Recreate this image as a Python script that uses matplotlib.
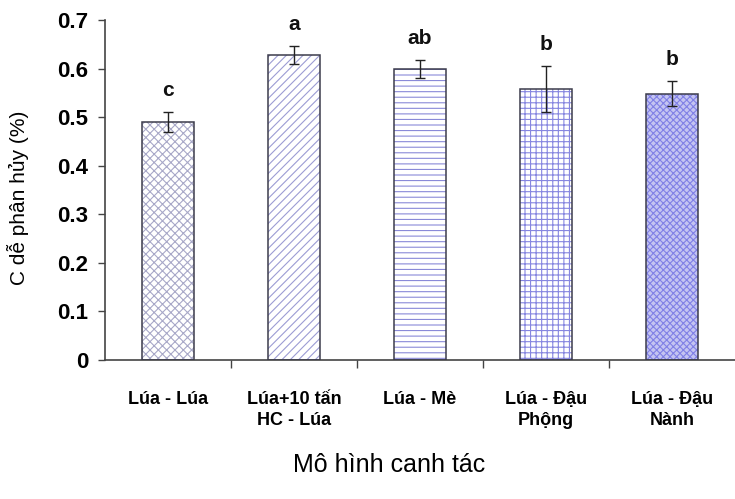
import numpy as np
import matplotlib
matplotlib.use("Agg")
import matplotlib.pyplot as plt

# data
categories = ["Lúa - Lúa", "Lúa+10 tấn\nHC - Lúa", "Lúa - Mè", "Lúa - Đậu\nPhộng", "Lúa - Đậu\nNành"]
values = [0.49, 0.628, 0.599, 0.558, 0.548]
errors = [0.020, 0.018, 0.018, 0.047, 0.026]
letters = ["c", "a", "ab", "b", "b"]

# styling per bar
hatches = ["xxxx", "////", "---", "+++", "xxxxx"]
hatch_colors = ["#a8a8c8", "#9c9cd4", "#8a8ad8", "#8686e0", "#8080e6"]
face_colors = ["white", "white", "white", "white", "#c4c4f2"]

plt.rcParams['font.family'] = ['Liberation Sans', 'DejaVu Sans']
plt.rcParams['hatch.linewidth'] = 0.8

fig = plt.figure(figsize=(7.35, 4.99), dpi=100)
ax = fig.add_axes([105 / 735, 1 - 360 / 499, 630 / 735, 340 / 499])

x = np.arange(len(categories))
width = 0.41

# hatched fill first, then dark outline on top
for i in range(len(x)):
    ax.bar(x[i], values[i], width, color=face_colors[i], hatch=hatches[i],
           edgecolor=hatch_colors[i], linewidth=0, zorder=2)
ax.bar(x, values, width, fill=False, edgecolor="#3c3c4c", linewidth=1.1, zorder=3)
ax.errorbar(x, values, yerr=errors, fmt="none", ecolor="#222222",
            elinewidth=1.0, capsize=3.5, capthick=1.0, zorder=4)

# significance letters
for i in range(len(x)):
    ax.text(x[i], values[i] + errors[i] + 0.045, letters[i], ha="center", va="center",
            fontsize=15, fontweight="bold", color="#111111")

ax.set_xlim(-0.5, len(x) - 0.5)
ax.set_ylim(0, 0.7)
yt = np.arange(0, 0.71, 0.1)
ax.set_yticks(yt)
ax.set_yticklabels(["0"] + ["%.1f" % v for v in yt[1:]], fontsize=16, fontweight="bold")
ax.tick_params(axis="y", direction="out", length=5, width=1, color="#444444", pad=7)

ax.set_xticks(x)
ax.set_xticklabels(categories, fontsize=13, fontweight="bold", linespacing=1.35)
ax.tick_params(axis="x", which="major", length=0, pad=22)
ax.set_xticks(x[:-1] + 0.5, minor=True)
ax.tick_params(axis="x", which="minor", direction="out", length=6, width=1, color="#444444")

for side in ["top", "right"]:
    ax.spines[side].set_visible(False)
for side in ["left", "bottom"]:
    ax.spines[side].set_color("#444444")
    ax.spines[side].set_linewidth(1.2)

fig.text(389 / 735, 1 - 465 / 499, "Mô hình canh tác", ha="center", va="center", fontsize=18)
fig.text(18 / 735, 1 - 198 / 499, "C dễ phân hủy (%)", ha="center", va="center",
         rotation=90, fontsize=15)

fig.savefig("out.png", dpi=100)
